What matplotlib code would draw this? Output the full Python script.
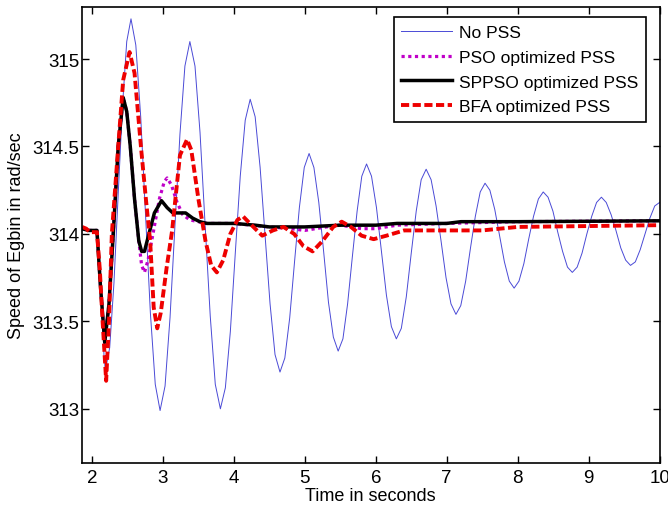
import matplotlib
matplotlib.use("Agg")
import matplotlib.pyplot as plt

plt.rcParams['font.family'] = ['Liberation Sans', 'DejaVu Sans']

# ---- data ----
t_nopss = [1.86, 1.95, 2.07, 2.10, 2.14, 2.17, 2.19,
           2.25, 2.31, 2.37, 2.43, 2.49, 2.55,
           2.618, 2.687, 2.755, 2.823, 2.892, 2.96,
           3.03, 3.10, 3.17, 3.24, 3.31, 3.38,
           3.452, 3.523, 3.595, 3.667, 3.738, 3.81,
           3.88, 3.95, 4.02, 4.09, 4.16, 4.23,
           4.30, 4.37, 4.44, 4.51, 4.58, 4.65,
           4.718, 4.787, 4.855, 4.923, 4.992, 5.06,
           5.128, 5.197, 5.265, 5.333, 5.402, 5.47,
           5.537, 5.603, 5.67, 5.737, 5.803, 5.87,
           5.94, 6.01, 6.08, 6.15, 6.22, 6.29,
           6.36, 6.43, 6.50, 6.57, 6.64, 6.71,
           6.78, 6.85, 6.92, 6.99, 7.06, 7.13,
           7.198, 7.267, 7.335, 7.403, 7.472, 7.54,
           7.608, 7.677, 7.745, 7.813, 7.882, 7.95,
           8.018, 8.087, 8.155, 8.223, 8.292, 8.36,
           8.428, 8.497, 8.565, 8.633, 8.702, 8.77,
           8.838, 8.907, 8.975, 9.043, 9.112, 9.18,
           9.248, 9.317, 9.385, 9.453, 9.522, 9.59,
           9.658, 9.727, 9.795, 9.863, 9.932, 10.0]
v_nopss = [314.03, 314.02, 314.02, 313.90, 313.60, 313.30, 313.22,
           313.35, 313.72, 314.23, 314.73, 315.10, 315.23,
           315.08, 314.67, 314.11, 313.55, 313.14, 312.99,
           313.13, 313.52, 314.05, 314.57, 314.96, 315.10,
           314.96, 314.58, 314.05, 313.53, 313.14, 313.00,
           313.12, 313.44, 313.89, 314.33, 314.65, 314.77,
           314.67, 314.38, 313.99, 313.60, 313.31, 313.21,
           313.29, 313.52, 313.84, 314.15, 314.38, 314.46,
           314.38, 314.18, 313.90, 313.61, 313.41, 313.33,
           313.40, 313.60, 313.87, 314.13, 314.33, 314.40,
           314.33, 314.15, 313.90, 313.65, 313.47, 313.40,
           313.46, 313.64, 313.89, 314.13, 314.31, 314.37,
           314.31, 314.16, 313.96, 313.75, 313.60, 313.54,
           313.59, 313.73, 313.92, 314.10, 314.24, 314.29,
           314.25, 314.14, 313.99, 313.84, 313.73, 313.69,
           313.73, 313.83, 313.97, 314.10, 314.20, 314.24,
           314.21, 314.13, 314.01, 313.90, 313.81, 313.78,
           313.81, 313.89, 314.00, 314.10, 314.18, 314.21,
           314.18, 314.11, 314.02, 313.92, 313.85, 313.82,
           313.84, 313.91, 314.00, 314.09, 314.16, 314.18]

t_pso = [1.86, 1.95, 2.07, 2.12, 2.18, 2.24, 2.30, 2.37, 2.44, 2.49, 2.54, 2.60, 2.66,
         2.70, 2.74, 2.79, 2.86, 2.95, 3.02, 3.06, 3.12, 3.20, 3.28, 3.38, 3.50, 3.62,
         4.0, 4.5, 4.8, 5.0, 5.3, 5.5, 5.8, 6.0, 6.3, 7.0, 8.0, 10.0]
v_pso = [314.03, 314.02, 314.02, 313.70, 313.38, 313.60, 314.00, 314.50, 314.78, 314.70, 314.50, 314.20, 313.96,
         313.82, 313.78, 313.85, 314.00, 314.20, 314.30, 314.32, 314.28, 314.18, 314.11, 314.08, 314.07, 314.06,
         314.06, 314.04, 314.03, 314.02, 314.04, 314.05, 314.03, 314.03, 314.05, 314.06, 314.07, 314.075]

t_sppso = [1.86, 1.95, 2.07, 2.12, 2.18, 2.24, 2.30, 2.37, 2.44, 2.49, 2.54, 2.60, 2.66,
           2.70, 2.74, 2.79, 2.88, 2.98, 3.06, 3.14, 3.22, 3.32, 3.42, 3.52, 3.62,
           4.0, 4.3, 4.5, 5.0, 5.5, 6.0, 6.3, 7.0, 7.2, 8.0, 10.0]
v_sppso = [314.03, 314.02, 314.02, 313.70, 313.38, 313.60, 314.00, 314.50, 314.78, 314.70, 314.50, 314.20, 313.96,
           313.90, 313.90, 313.98, 314.12, 314.19, 314.15, 314.12, 314.12, 314.12, 314.09, 314.07, 314.06,
           314.06, 314.05, 314.04, 314.04, 314.05, 314.05, 314.06, 314.06, 314.07, 314.07, 314.075]

t_bfa = [1.86, 1.92, 1.97, 2.07, 2.11, 2.15, 2.20, 2.24, 2.28, 2.37, 2.44, 2.53, 2.60,
         2.69, 2.76, 2.82, 2.87, 2.92, 2.97, 3.05, 3.13, 3.24, 3.34, 3.40, 3.50, 3.60,
         3.68, 3.76, 3.85, 3.95, 4.05, 4.13, 4.25, 4.40, 4.55, 4.70, 4.85, 4.98, 5.11,
         5.25, 5.40, 5.52, 5.65, 5.80, 5.97, 6.15, 6.40, 7.0, 7.5, 8.0, 9.0, 10.0]
v_bfa = [314.04, 314.03, 314.01, 314.01, 313.80, 313.50, 313.16, 313.50, 314.00, 314.50, 314.88, 315.04, 314.92,
         314.50, 314.20, 313.96, 313.58, 313.46, 313.55, 313.80, 314.02, 314.45, 314.54, 314.48, 314.20, 313.96,
         313.82, 313.78, 313.85, 314.00, 314.08, 314.10, 314.05, 313.99, 314.02, 314.04, 314.00, 313.93, 313.90,
         313.96, 314.04, 314.07, 314.04, 313.99, 313.97, 313.99, 314.02, 314.02, 314.02, 314.04, 314.045, 314.05]

labels = ['No PSS', 'PSO optimized PSS', 'SPPSO optimized PSS', 'BFA optimized PSS']
x_ticks = [2, 3, 4, 5, 6, 7, 8, 9, 10]
y_ticks = [313, 313.5, 314, 314.5, 315]
y_ticklabels = ['313', '313.5', '314', '314.5', '315']

fig = plt.figure(figsize=(6.68, 5.06), dpi=100)
ax = fig.add_axes([0.1228, 0.083, 0.8646, 0.902])

ax.plot(t_nopss, v_nopss, color='#4a4ad6', lw=0.7, label=labels[0])
ax.plot(t_pso, v_pso, color='#c000c8', lw=2.3, linestyle=(0, (1, 1.1)), label=labels[1])
ax.plot(t_sppso, v_sppso, color='black', lw=2.5, label=labels[2])
ax.plot(t_bfa, v_bfa, color='#ee0000', lw=2.8, linestyle=(0, (2.1, 0.9)), label=labels[3])

ax.set_xlim(1.86, 10)
ax.set_ylim(312.69, 315.30)
ax.set_xticks(x_ticks)
ax.set_xticklabels([str(x) for x in x_ticks])
ax.set_yticks(y_ticks)
ax.set_yticklabels(y_ticklabels)
ax.tick_params(direction='in', top=True, right=True, length=5, width=1,
               labelsize=13.5, pad=4)
ax.tick_params(axis='y', pad=2)
for s in ax.spines.values():
    s.set_linewidth(1.2)

ax.set_xlabel('Time in seconds', fontsize=13, labelpad=1)
ax.set_ylabel('Speed of Egbin in rad/sec', fontsize=13, labelpad=5)

leg = ax.legend(loc='upper right', bbox_to_anchor=(0.9765, 0.978), borderaxespad=0,
                fontsize=12.6, fancybox=False, edgecolor='black', framealpha=1,
                handlelength=2.9, handletextpad=0.38, labelspacing=0.55, borderpad=0.45)
leg.get_frame().set_linewidth(1.2)

fig.savefig('out.png', dpi=100)
